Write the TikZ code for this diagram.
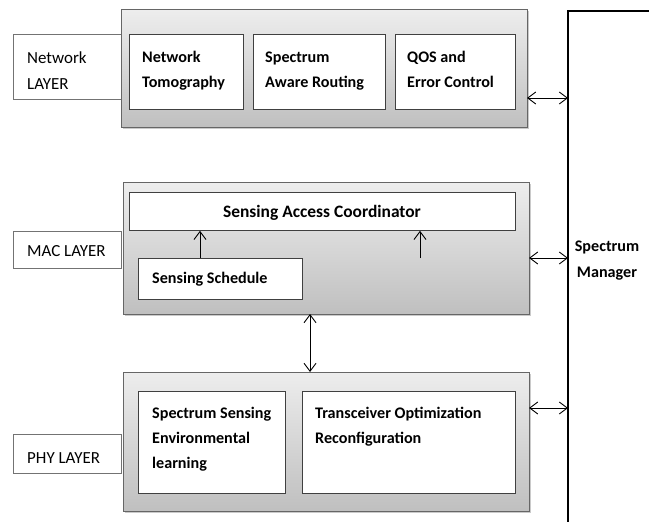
\documentclass[tikz,border=0pt]{standalone}
\usepackage{fontspec}
\setmainfont{Carlito}
\usetikzlibrary{arrows.meta,shadows}
\tikzset{
  x=1bp, y=-1bp,
  layerbox/.style={draw=black!55, line width=0.6bp, fill=white, inner sep=0pt},
  outerbox/.style={draw=black!60, line width=1bp, top color=black!7, bottom color=black!25,
    drop shadow={shadow xshift=1.5bp, shadow yshift=-1.5bp, opacity=0.35, fill=black!60}},
  innerbox/.style={draw=black!75, line width=0.8bp, fill=white},
  lbl/.style={font=\fontsize{17}{27}\selectfont, inner sep=0pt, anchor=base west, align=left},
  itxt/.style={font=\fontsize{16.2}{26}\selectfont\bfseries, inner sep=0pt, anchor=base west, align=left},
  barb/.tip={Straight Barb[length=8bp,width=12bp,line width=0.9bp]},
  link/.style={line width=0.9bp, barb-barb},
  uplink/.style={line width=0.9bp, -barb},
}
\begin{document}
\begin{tikzpicture}
\useasboundingbox (0,0) rectangle (649,522);

% spectrum manager: left and top edges of a box running off to the right
\draw[line width=2bp] (568,522) -- (568,11) -- (649,11);
\node[itxt, anchor=center, align=center] (mgr) at (607,261) {Spectrum\\Manager};
\coordinate (mgrNet) at (568,98);
\coordinate (mgrMac) at (568,258);
\coordinate (mgrPhy) at (568,408);

% ---------- network layer ----------
\draw[layerbox] (121,34) rectangle (13,99);
\node[lbl] (netlbl) at (27,90) {Network\\LAYER};
\path[outerbox] (121,10) rectangle (527,128);
\coordinate (netR) at (527,98);
\draw[innerbox] (129,34) rectangle (243,109);
\draw[innerbox] (253,34) rectangle (385,109);
\draw[innerbox] (395,34) rectangle (515,109);
\node[itxt] (tomo) at (142,88) {Network\\Tomography};
\node[itxt] (route) at (265,88) {Spectrum\\Aware Routing};
\node[itxt] (qos) at (407,88) {QOS and\\Error Control};

% ---------- MAC layer ----------
\draw[layerbox] (121,231) rectangle (13,268);
\node[lbl] (maclbl) at (27,257) {MAC LAYER};
\path[outerbox] (123,183) rectangle (529,314);
\coordinate (macR) at (529,258);
\coordinate (macB) at (310,314);
\node[innerbox, minimum width=386bp, minimum height=38bp, anchor=north west] (sac) at (129,192) {};
\node[itxt, anchor=base, font=\fontsize{17.5}{26}\selectfont\bfseries] (sactxt) at (322,218) {Sensing Access Coordinator};
\node[innerbox, minimum width=164bp, minimum height=41bp, anchor=north west] (sched) at (138,258) {};
\node[itxt] (schedtxt) at (152,283) {Sensing Schedule};
\draw[uplink] (sched.north -| 200,0) -- (sac.south -| 200,0);
\coordinate (freeup) at (420,258);
\draw[uplink] (freeup) -- (sac.south -| freeup);

% ---------- PHY layer ----------
\draw[layerbox] (121,434) rectangle (13,473);
\node[lbl] (phylbl) at (27,463) {PHY LAYER};
\path[outerbox] (123,372) rectangle (529,511);
\coordinate (phyR) at (529,408);
\coordinate (phyT) at (310,372);
\draw[innerbox] (138,391) rectangle (285,493);
\draw[innerbox] (302,391) rectangle (515,493);
\node[itxt, font=\fontsize{16.2}{25}\selectfont\bfseries] (sense) at (152,468) {Spectrum Sensing\\Environmental\\learning};
\node[itxt, font=\fontsize{16.2}{25}\selectfont\bfseries] (trx) at (315,443) {Transceiver Optimization\\Reconfiguration};

% ---------- connectors ----------
\draw[link] (netR) -- (mgrNet);
\draw[link] (macR) -- (mgrMac);
\draw[link] (phyR) -- (mgrPhy);
\draw[link] (macB) -- (phyT);
\end{tikzpicture}
\end{document}
